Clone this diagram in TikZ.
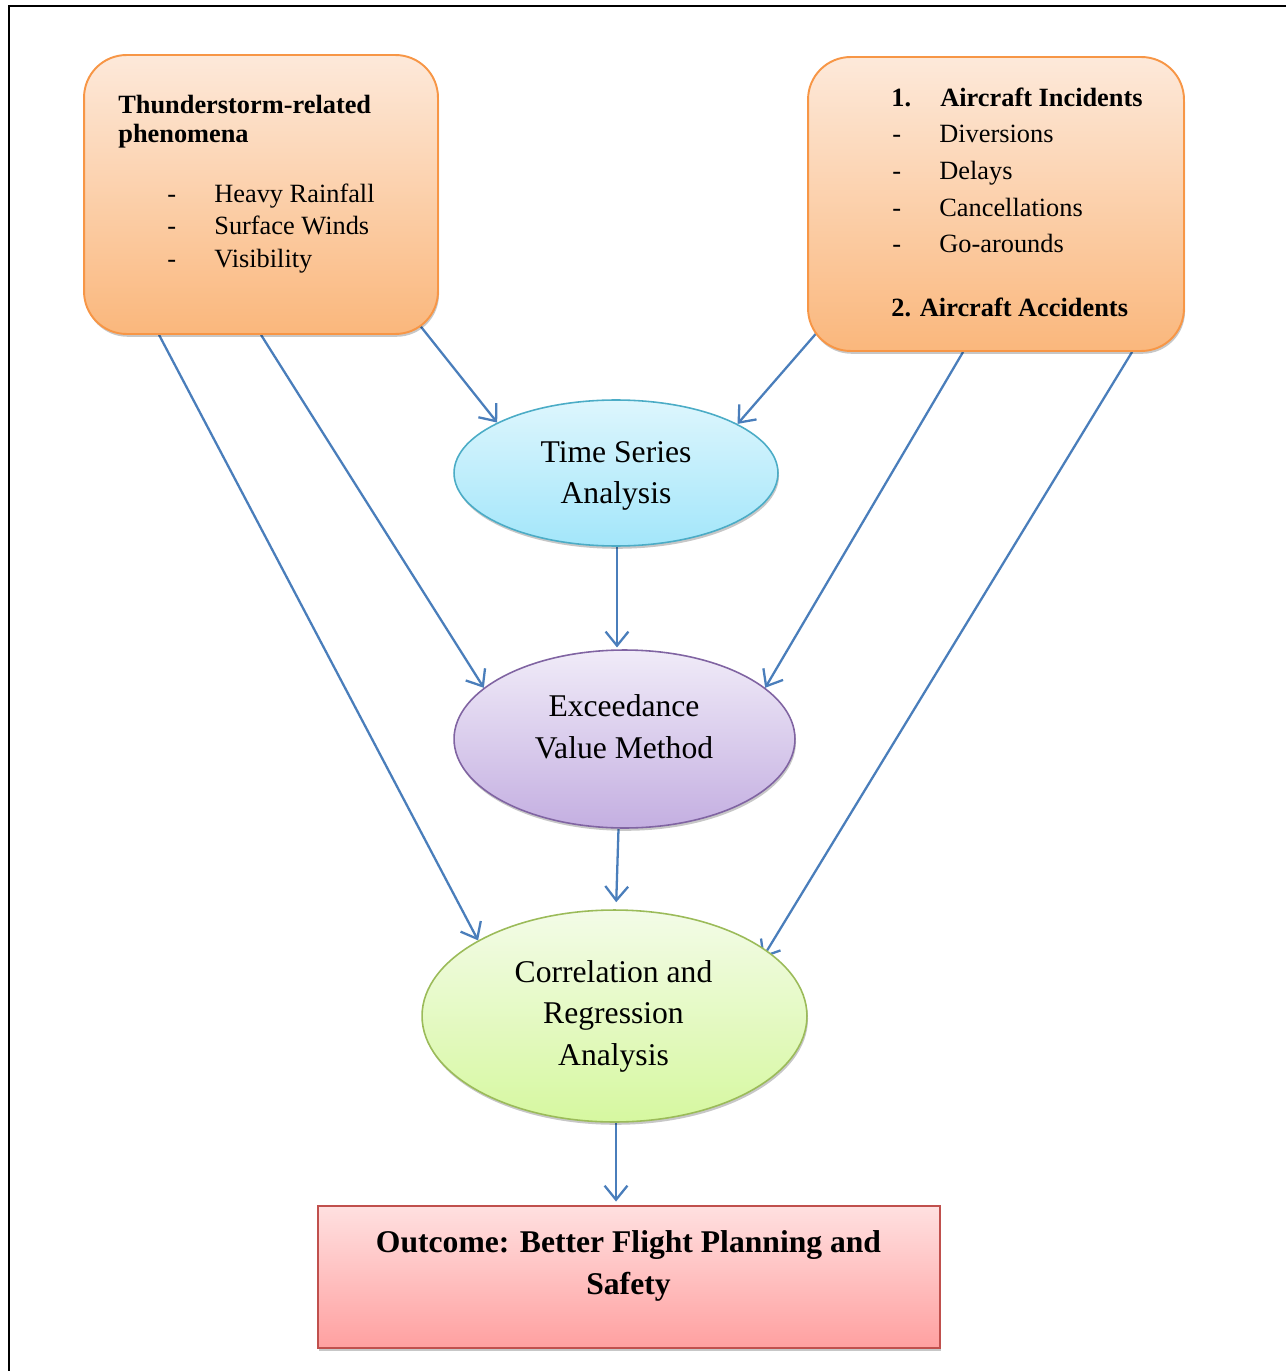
\documentclass[tikz,border=0pt]{standalone}
\usepackage{fontspec}
\setmainfont{Liberation Serif}
\usetikzlibrary{shapes.geometric,arrows.meta,calc,shadows}
\pgfdeclarelayer{bg}
\pgfsetlayers{bg,main}
\definecolor{orBorder}{HTML}{F79646}
\definecolor{orTop}{HTML}{FDE9DA}
\definecolor{orBot}{HTML}{FAB77C}
\definecolor{tsBorder}{HTML}{4BACC6}
\definecolor{tsTop}{HTML}{DDF6FD}
\definecolor{tsBot}{HTML}{A3E6FA}
\definecolor{evBorder}{HTML}{8064A2}
\definecolor{evTop}{HTML}{F0EBF8}
\definecolor{evBot}{HTML}{C4AFE1}
\definecolor{crBorder}{HTML}{9BBB59}
\definecolor{crTop}{HTML}{F3FBE7}
\definecolor{crBot}{HTML}{D6F8A0}
\definecolor{ocBorder}{HTML}{C0504D}
\definecolor{ocTop}{HTML}{FFE0E0}
\definecolor{ocBot}{HTML}{FFA0A0}
\definecolor{arrBlue}{HTML}{4A7EBB}
\tikzset{
  shad/.style={drop shadow={shadow xshift=0.6pt, shadow yshift=-1.6pt, opacity=0.22, fill=black}},
  obox/.style={draw=orBorder, line width=1.1pt, rounded corners=0.85cm, top color=orTop, bottom color=orBot, shad, inner sep=0, minimum width=#1},
  ell/.style={ellipse, line width=0.9pt, inner sep=0, shad},
  ltxt/.style={inner sep=0, anchor=base west, font=\fontsize{15}{18}\selectfont},
  ctxt/.style={inner sep=0, anchor=base, font=\fontsize{18}{22}\selectfont},
  arr/.style={draw=arrBlue, line width=1.3pt, -{Straight Barb[length=8pt,width=13pt,line width=1.3pt]}},
}
\begin{document}
\begin{tikzpicture}[x=0.02cm,y=-0.02cm]
\useasboundingbox (0,0) rectangle (1286,1371);
% frame
\draw[line width=1.2pt] (1286,6) -- (9,6) -- (9,1371);

% left box
\node[obox=7.08cm, minimum height=5.58cm] (lb) at (261,194.5) {};
\node[ltxt, font=\fontsize{15}{18}\selectfont\bfseries] (lb1) at (118,114) {Thunderstorm-related};
\node[ltxt, font=\fontsize{15}{18}\selectfont\bfseries] (lb2) at (118,143) {phenomena};
\node[ltxt] (lbd1) at (167,203) {-};
\node[ltxt] (lbi1) at (214,203) {Heavy Rainfall};
\node[ltxt] (lbd2) at (167,235) {-};
\node[ltxt] (lbi2) at (214,235) {Surface Winds};
\node[ltxt] (lbd3) at (167,268) {-};
\node[ltxt] (lbi3) at (214,268) {Visibility};

% right box
\node[obox=7.52cm, minimum height=5.88cm] (rb) at (996,204) {};
\node[ltxt, font=\fontsize{15}{18}\selectfont\bfseries] (rbn1) at (891,107) {1.};
\node[ltxt, font=\fontsize{15}{18}\selectfont\bfseries] (rb1) at (940,107) {Aircraft Incidents};
\node[ltxt] (rbd1) at (892,143) {-};
\node[ltxt] (rbi1) at (939,143) {Diversions};
\node[ltxt] (rbd2) at (892,180) {-};
\node[ltxt] (rbi2) at (939,180) {Delays};
\node[ltxt] (rbd3) at (892,217) {-};
\node[ltxt] (rbi3) at (939,217) {Cancellations};
\node[ltxt] (rbd4) at (892,253) {-};
\node[ltxt] (rbi4) at (939,253) {Go-arounds};
\node[ltxt, font=\fontsize{15}{18}\selectfont\bfseries] (rb2) at (891,317) {2. Aircraft Accidents};

% time series
\node[ell, draw=tsBorder, top color=tsTop, bottom color=tsBot, minimum width=6.48cm, minimum height=2.92cm] (ts) at (616,473) {};
\node[ctxt] (ts1) at (616,462) {Time Series};
\node[ctxt] (ts2) at (616,503) {Analysis};

% exceedance
\node[ell, draw=evBorder, top color=evTop, bottom color=evBot, minimum width=6.82cm, minimum height=3.56cm] (ev) at (624.5,739) {};
\node[ctxt] (ev1) at (624,716) {Exceedance};
\node[ctxt] (ev2) at (624,758) {Value Method};

% correlation
\node[ell, draw=crBorder, top color=crTop, bottom color=crBot, minimum width=7.7cm, minimum height=4.24cm] (cr) at (614.5,1016) {};
\node[ctxt] (cr1) at (613.5,982) {Correlation and};
\node[ctxt] (cr2) at (613.5,1023) {Regression};
\node[ctxt] (cr3) at (613.5,1065) {Analysis};

% outcome
\node[draw=ocBorder, line width=1.1pt, top color=ocTop, bottom color=ocBot, shad, inner sep=0, minimum width=12.44cm, minimum height=2.84cm] (oc) at (629,1277) {};
\node[ctxt, font=\fontsize{18}{22}\selectfont\bfseries] (oc1) at (628.5,1252) {Outcome: Better Flight Planning and};
\node[ctxt, font=\fontsize{18}{22}\selectfont\bfseries] (oc2) at (628.5,1294) {Safety};

% connectors
\begin{pgfonlayer}{bg}
\draw[arr] ($(lb.south east)+(-38.5,-34)$) -- (ts.157);
\draw[arr] ($(rb.south west)+(37.3,-51)$) -- (ts.22);
\draw[arr, shorten >=1pt] ($(ts.south)+(1,0)$) -- ($(ts.south |- ev.north)+(1,0)$);
\draw[arr] ($(lb.south west)+(178,0)$) -- (ev.160);
\draw[arr] ($(rb.south west)+(156,0)$) -- (ev.20);
\draw[arr, shorten >=4pt] ($(ev.south)+(-6,0)$) -- ($(ts.south |- cr.north)$);
\draw[arr] ($(lb.south west)+(76,0)$) -- (cr.151);
\draw[arr] ($(rb.south west)+(325,0)$) -- ($(cr.center)+(148,-58)$);
\draw[arr, shorten >=2pt] ($(cr.south)+(1.5,0)$) -- ($(cr.south |- oc.north)+(1.5,0)$);
\end{pgfonlayer}
\end{tikzpicture}
\end{document}
